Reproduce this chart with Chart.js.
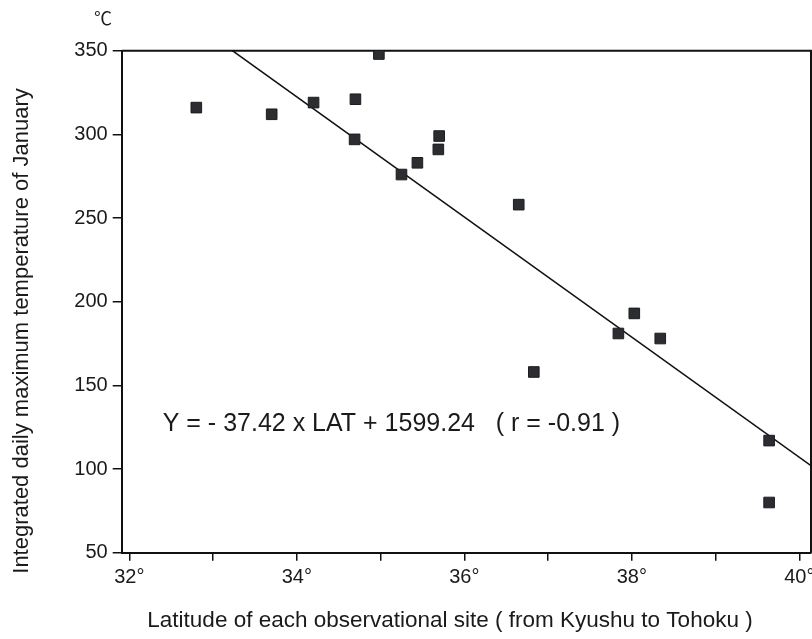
<!DOCTYPE html>
<html>
<head>
<meta charset="utf-8">
<script src="https://cdn.jsdelivr.net/npm/chart.js@4.4.1/dist/chart.umd.min.js"></script>
<style>
  html, body { margin: 0; padding: 0; background: #fff; }
  #wrap { width: 812px; height: 639px; }
</style>
</head>
<body>
<div id="wrap"><canvas id="myChart" width="812" height="639"></canvas></div>
<script>
// observation sites: latitude (deg) vs integrated daily max temperature of January
const latitudes = [32.80, 33.70, 34.20, 34.70, 34.69, 34.98, 35.25, 35.44, 35.69, 35.70, 36.65, 36.83, 37.84, 38.03, 38.34, 39.64, 39.64];
const tempSums  = [316, 312, 319, 321, 297, 348, 276, 283, 291, 299, 258, 158, 181, 193, 178, 117, 80];

// regression line end points
const fitLat  = [33.23, 40.14];
const fitTemp = [350, 102];

const xTickValues = [32, 33, 34, 35, 36, 37, 38, 39, 40];
const xTickLabels = ["32°", "", "34°", "", "36°", "", "38°", "", "40°"];
const yTickValues = [50, 100, 150, 200, 250, 300, 350];

const xTitle = "Latitude of each observational site ( from Kyushu to Tohoku )";
const yTitle = "Integrated daily maximum temperature of January";
const equationText = "Y = - 37.42 x LAT + 1599.24   ( r = -0.91 )";
const unitText = "℃";

const FONT = "'Liberation Sans', Arial, Helvetica, sans-serif";
const INK = "#1a1a1a";

const framePlugin = {
    id: "frame",
    beforeDatasetsDraw(chart) {
        const { ctx, chartArea: a } = chart;
        ctx.save();
        ctx.strokeStyle = "#111";
        ctx.lineWidth = 2;
        ctx.beginPath();
        ctx.moveTo(a.left, a.top);
        ctx.lineTo(a.right, a.top);
        ctx.lineTo(a.right, a.bottom);
        ctx.stroke();
        ctx.restore();
    },
    afterDraw(chart) {
        const { ctx, chartArea: a } = chart;
        ctx.save();
        ctx.fillStyle = INK;

        // regression equation
        ctx.textBaseline = "alphabetic";
        ctx.textAlign = "left";
        ctx.font = "25px " + FONT;
        ctx.fillText(equationText, a.left + 41, 431);

        // unit above the y axis
        ctx.font = "18px 'Noto Sans CJK JP', " + FONT;
        ctx.textAlign = "center";
        ctx.textBaseline = "middle";
        ctx.fillText(unitText, 103, 18);

        // axis titles
        ctx.font = "22.5px " + FONT;
        ctx.fillText(xTitle, 450, 621);
        ctx.translate(22, 331);
        ctx.rotate(-Math.PI / 2);
        ctx.font = "22px " + FONT;
        ctx.fillText(yTitle, 0, 0);
        ctx.restore();
    },
};

const ctx = document.getElementById("myChart");

new Chart(ctx, {
    type: "scatter",
    data: {
        datasets: [
            {
                data: latitudes.map((lat, i) => ({ x: lat, y: tempSums[i] })),
                pointStyle: "rect",
                pointRadius: 7.5,
                pointHoverRadius: 7.5,
                backgroundColor: "#2b2d31",
                borderColor: "#1c1d20",
                borderWidth: 1,
            },
            {
                data: fitLat.map((lat, i) => ({ x: lat, y: fitTemp[i] })),
                showLine: true,
                borderColor: "#111",
                borderWidth: 1.6,
                pointRadius: 0,
            },
        ],
    },
    options: {
        responsive: false,
        animation: false,
        devicePixelRatio: 1,
        layout: { autoPadding: false, padding: { top: 50.7, right: 1, bottom: 0, left: 0 } },
        plugins: {
            legend: { display: false },
            tooltip: { enabled: false },
        },
        scales: {
            x: {
                type: "linear",
                min: 31.909,
                max: 40.14,
                afterBuildTicks: (axis) => {
                    axis.ticks = xTickValues.map((v) => ({ value: v }));
                },
                afterFit: (axis) => {
                    axis.height = 639 - 552.7;
                    axis.paddingLeft = 0;
                    axis.paddingRight = 0;
                },
                ticks: {
                    autoSkip: false,
                    maxRotation: 0,
                    padding: 5,
                    color: INK,
                    font: { family: FONT, size: 20 },
                    callback: (v, i) => xTickLabels[i],
                },
                grid: {
                    drawOnChartArea: false,
                    drawTicks: true,
                    tickLength: 8,
                    color: "#111",
                    lineWidth: 1.5,
                },
                border: { display: true, color: "#111", width: 2 },
            },
            y: {
                type: "linear",
                min: 50,
                max: 350,
                afterBuildTicks: (axis) => {
                    axis.ticks = yTickValues.map((v) => ({ value: v }));
                },
                afterFit: (axis) => {
                    axis.width = 121.7;
                    axis.paddingTop = 0;
                    axis.paddingBottom = 0;
                },
                ticks: {
                    padding: 5,
                    color: INK,
                    font: { family: FONT, size: 20 },
                },
                grid: {
                    drawOnChartArea: false,
                    drawTicks: true,
                    tickLength: 9,
                    color: "#111",
                    lineWidth: 1.5,
                },
                border: { display: true, color: "#111", width: 2 },
            },
        },
    },
    plugins: [framePlugin],
});
</script>
</body>
</html>
